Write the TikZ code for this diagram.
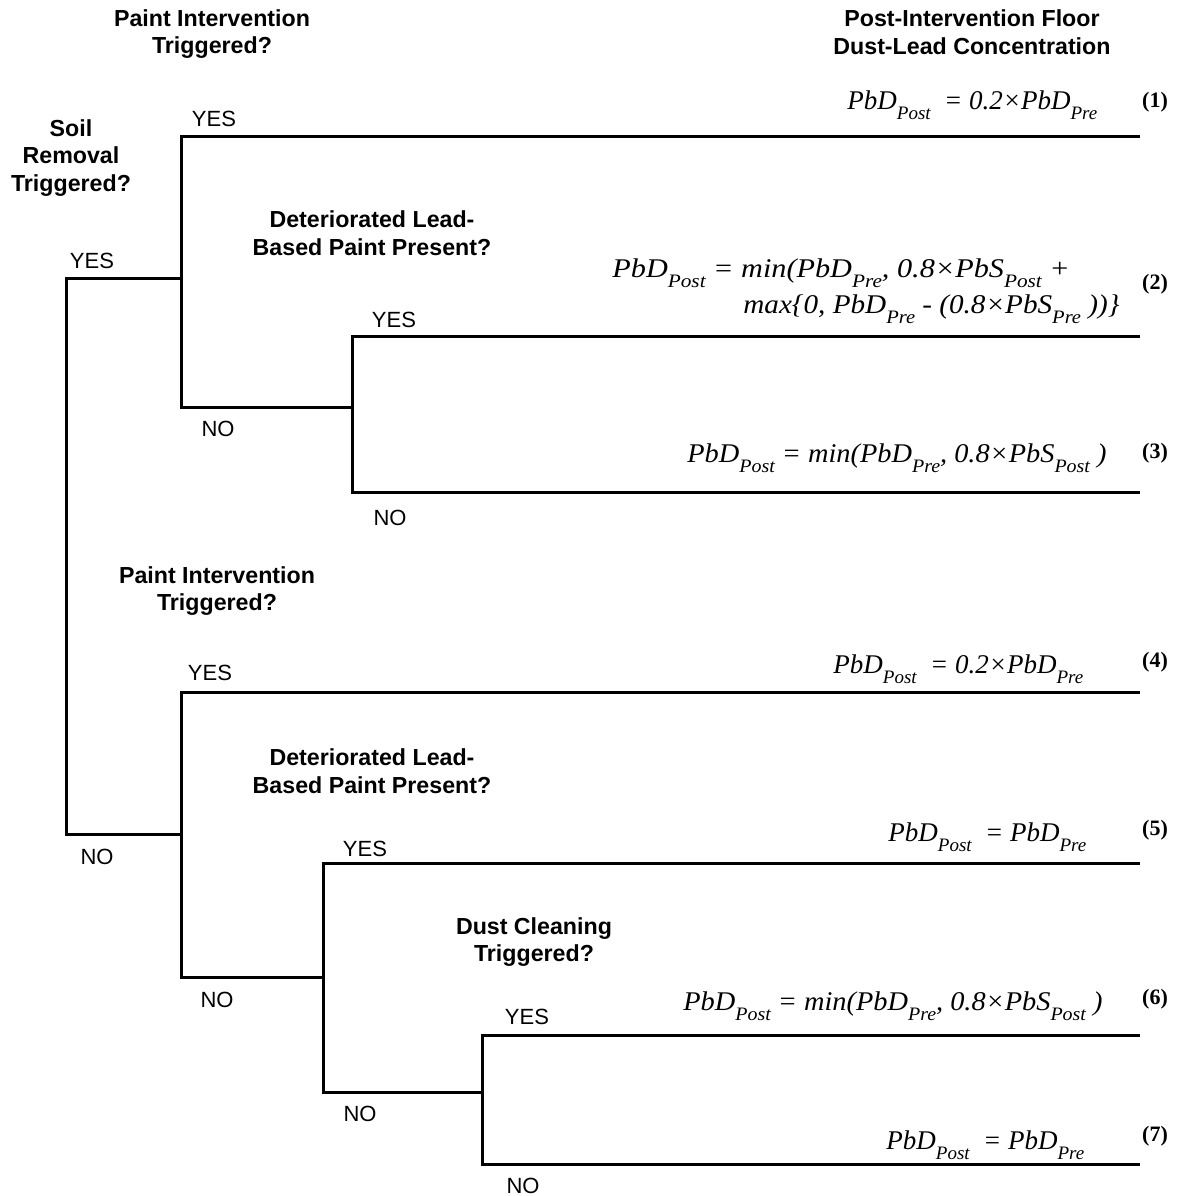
\documentclass[tikz,border=0pt]{standalone}
\usepackage{fontspec}
\setmainfont{Liberation Sans}
\newfontfamily\tms{Liberation Serif}
\usepackage{tikz}
\usetikzlibrary{positioning}

\newcommand{\lowsub}[1]{\raisebox{-5pt}{\fontsize{9.5}{10}\selectfont #1}}
\newcommand{\widen}[2]{\scalebox{#1}[1]{#2}}

\begin{document}
\begin{tikzpicture}[x=0.5pt, y=-0.5pt,
  branch/.style = {line width=1.5pt},
  ans/.style = {font=\fontsize{11}{12}\selectfont, inner sep=0pt},
  quest/.style = {font=\bfseries\fontsize{11.6}{13.75}\selectfont, align=center, inner sep=0pt},
  eqn/.style = {font=\tms\itshape\fontsize{13.5}{15}\selectfont, inner sep=0pt, anchor=base west},
  num/.style = {font=\tms\bfseries\fontsize{11}{13}\selectfont, inner sep=0pt, anchor=base}]
\useasboundingbox (0,0) rectangle (1191,1196);

% decision points
\coordinate (end) at (1140,0);
\coordinate (s1) at (66,278);  \coordinate (s2) at (66,834);
\coordinate (p1) at (181,136); \coordinate (p2) at (181,407);
\coordinate (d1) at (352,336); \coordinate (d2) at (352,492);
\coordinate (q1) at (181,692); \coordinate (q2) at (181,977);
\coordinate (g1) at (323,863); \coordinate (g2) at (323,1092);
\coordinate (c1) at (482,1035); \coordinate (c2) at (482,1164);

% tree
\draw[branch] (s1 -| p1) -- (s1) -- (s2) -- (s2 -| q1);
\draw[branch] (p1 -| end) -- (p1) -- (p2) -- (p2 -| d1);
\draw[branch] (d1 -| end) -- (d1) -- (d2) -- (d2 -| end);
\draw[branch] (q1 -| end) -- (q1) -- (q2) -- (q2 -| g1);
\draw[branch] (g1 -| end) -- (g1) -- (g2) -- (g2 -| c1);
\draw[branch] (c1 -| end) -- (c1) -- (c2) -- (c2 -| end);

% questions
\node[quest] (pi1) at (212,34) {Paint Intervention\\Triggered?};
\node[quest] (post) at (972,32) {Post-Intervention Floor\\Dust-Lead Concentration};
\node[quest] (soil) at (71,158) {Soil\\Removal\\Triggered?};
\node[quest] (dl1) at (372,233) {Deteriorated Lead-\\Based Paint Present?};
\node[quest] (pi2) at (217,591) {Paint Intervention\\Triggered?};
\node[quest] (dl2) at (372,771) {Deteriorated Lead-\\Based Paint Present?};
\node[quest] (dc) at (534,942) {Dust Cleaning\\Triggered?};

% answers
\node[ans] (sy) at (92,261) {YES};  \node[ans] (sn) at (97,857) {NO};
\node[ans] (py) at (214,119) {YES}; \node[ans] (pn) at (218,429) {NO};
\node[ans] (dy) at (394,320) {YES}; \node[ans] (dn) at (390,518) {NO};
\node[ans] (qy) at (210,673) {YES}; \node[ans] (qn) at (217,1000) {NO};
\node[ans] (gy) at (365,849) {YES}; \node[ans] (gn) at (360,1114) {NO};
\node[ans] (cy) at (527,1017) {YES}; \node[ans] (cn) at (523,1186) {NO};

% outcomes
\node[eqn] (eq1) at (847,109) {PbD\lowsub{Post} \ = 0.2×PbD\lowsub{Pre}};
\node[eqn] (eq2a) at (612,277) {\widen{1.12}{PbD\lowsub{Post} = min(PbD\lowsub{Pre}, 0.8×PbS\lowsub{Post} +}};
\node[eqn] (eq2b) at (743,313) {\widen{1.08}{max\{0, PbD\lowsub{Pre} - (0.8×PbS\lowsub{Pre} ))\}}};
\node[eqn] (eq3) at (687,462) {\widen{1.05}{PbD\lowsub{Post} = min(PbD\lowsub{Pre}, 0.8×PbS\lowsub{Post} )}};
\node[eqn] (eq4) at (833,673) {PbD\lowsub{Post} \ = 0.2×PbD\lowsub{Pre}};
\node[eqn] (eq5) at (888,841) {PbD\lowsub{Post} \ = PbD\lowsub{Pre}};
\node[eqn] (eq6) at (683,1010) {\widen{1.05}{PbD\lowsub{Post} = min(PbD\lowsub{Pre}, 0.8×PbS\lowsub{Post} )}};
\node[eqn] (eq7) at (886,1149) {PbD\lowsub{Post} \ = PbD\lowsub{Pre}};

\node[num] (n1) at (1155,107) {(1)};
\node[num] (n2) at (1155,289) {(2)};
\node[num] (n3) at (1155,458) {(3)};
\node[num] (n4) at (1155,667) {(4)};
\node[num] (n5) at (1155,835) {(5)};
\node[num] (n6) at (1155,1004) {(6)};
\node[num] (n7) at (1155,1141) {(7)};
\end{tikzpicture}
\end{document}
